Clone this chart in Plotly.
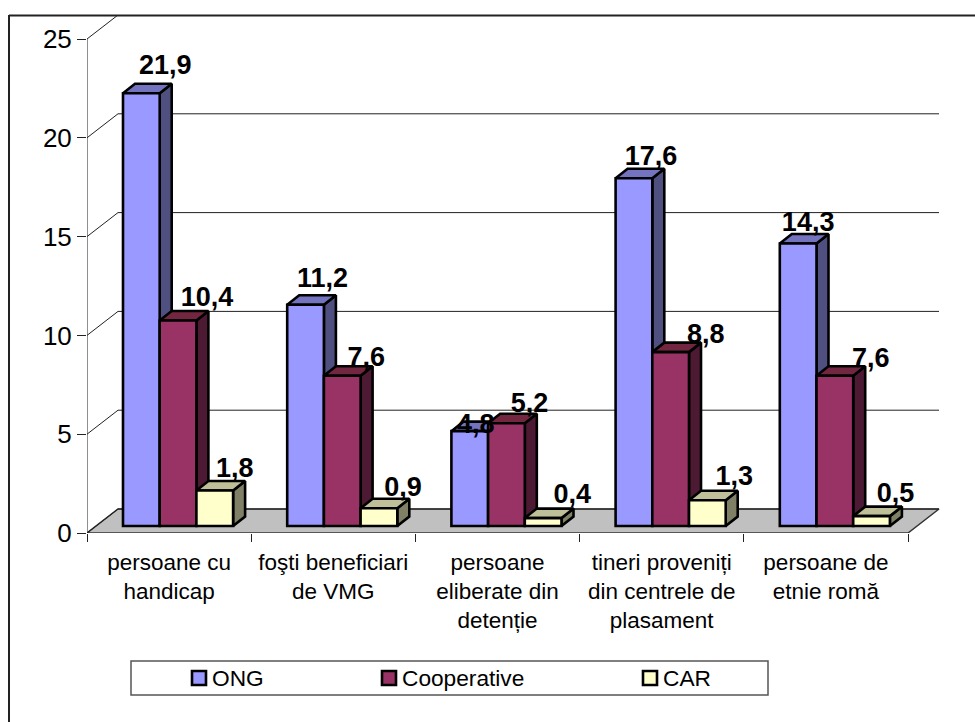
import plotly.graph_objects as go

categories = ["persoane cu<br>handicap", "foşti beneficiari<br>de VMG", "persoane<br>eliberate din<br>detenție",
              "tineri proveniți<br>din centrele de<br>plasament", "persoane de<br>etnie romă"]
ong = [21.9, 11.2, 4.8, 17.6, 14.3]
cooperative = [10.4, 7.6, 5.2, 8.8, 7.6]
car = [1.8, 0.9, 0.4, 1.3, 0.5]
series_names = ["ONG", "Cooperative", "CAR"]
y_ticks = [0, 5, 10, 15, 20, 25]

# ---- style / geometry (pixels) ----
PLOT_L, PLOT_R, PLOT_T, PLOT_B = 87, 940, 16, 533
CAT_W = 164.2
UNIT = 19.76
FONT = "Liberation Sans"
def ux(p): return p / CAT_W
def uy(p): return p / UNIT
def px(x): return (x - PLOT_L) / (PLOT_R - PLOT_L)
def py(y): return (PLOT_B - y) / (PLOT_B - PLOT_T)

front = ["#9999FF", "#993366", "#FFFFCC"]
side = ["#4F4F80", "#4D1A33", "#808066"]
top = ["#7373BF", "#732640", "#BFBF99"]
BAR_W = ux(36.7)
BAR_START = ux(36)
LIFT = uy(7)
DEPTH_X, DEPTH_Y = ux(12), uy(9.5)
WALL_X, WALL_Y = ux(31), uy(24)
label_dx = [[24, 17, 6, 17, 10], [29, 24, 23, 35, 36], [20, 24, 29, 27, 24]]
label_dy = [[26, 24, 5, 20, 19], [21, 17, 18, 16, 16], [20, 19, 22, 22, 21]]

xr = [0, (PLOT_R - PLOT_L) / CAT_W]
yr = [0, (PLOT_B - PLOT_T) / UNIT]
n = len(categories)
values = [ong, cooperative, car]
fig = go.Figure()

def poly(xs, ys, fill, line="#000000", w=2.6):
    fig.add_trace(go.Scatter(x=xs, y=ys, mode="lines", fill="toself", fillcolor=fill,
                             line=dict(color=line, width=w), hoverinfo="skip", showlegend=False))

# floor
poly([0, WALL_X, n + WALL_X, n, 0], [0, WALL_Y, WALL_Y, 0, 0], "#C0C0C0", "#333333", 1.5)
# back wall grid + diagonals + value axis
for v in y_ticks:
    fig.add_trace(go.Scatter(x=[0, WALL_X, n + WALL_X], y=[v, v + WALL_Y, v + WALL_Y], mode="lines",
                             line=dict(color="#222222", width=1), hoverinfo="skip", showlegend=False))
fig.add_trace(go.Scatter(x=[0, 0], y=[0, y_ticks[-1]], mode="lines",
                         line=dict(color="#222222", width=1), hoverinfo="skip", showlegend=False))

# depth faces of the bars, from the values
for i in range(n):
    for s, vals in enumerate(values):
        x0 = i + BAR_START + s * BAR_W
        x1 = x0 + BAR_W
        t = vals[i] + LIFT
        poly([x1, x1 + DEPTH_X, x1 + DEPTH_X, x1, x1],
             [LIFT, LIFT + DEPTH_Y, t + DEPTH_Y, t, LIFT], side[s])
        poly([x0, x0 + DEPTH_X, x1 + DEPTH_X, x1, x0],
             [t, t + DEPTH_Y, t + DEPTH_Y, t, t], top[s])

# front faces, real bars on the overlaid axes
for s, vals in enumerate(values):
    fig.add_trace(go.Bar(x=[i + BAR_START + (s + 0.5) * BAR_W for i in range(n)], y=vals,
                         base=[LIFT] * n, width=BAR_W, name=series_names[s],
                         marker=dict(color=front[s], line=dict(color="#000000", width=2.6)),
                         xaxis="x2", yaxis="y2", showlegend=False))

# value labels
for s, vals in enumerate(values):
    fig.add_trace(go.Scatter(
        x=[i + BAR_START + (s + 0.5) * BAR_W + ux(label_dx[s][i]) for i in range(n)],
        y=[vals[i] + LIFT + uy(label_dy[s][i]) for i in range(n)],
        text=[str(v).replace(".", ",") for v in vals], mode="text", textposition="middle center",
        textfont=dict(family=FONT, size=27, color="#000000", weight="bold"),
        xaxis="x2", yaxis="y2", hoverinfo="skip", showlegend=False, cliponaxis=False))

shapes = [
    dict(type="line", xref="paper", yref="paper", x0=px(9), x1=px(9), y0=py(15), y1=py(722),
         line=dict(color="#222222", width=2)),
    dict(type="line", xref="paper", yref="paper", x0=px(9), x1=px(975), y0=py(15.5), y1=py(15.5),
         line=dict(color="#222222", width=2)),
    dict(type="rect", xref="paper", yref="paper", x0=px(131), x1=px(768), y0=py(661), y1=py(695),
         line=dict(color="#555555", width=1.5), fillcolor="#FFFFFF"),
]
annotations = []
swatch_x = [192, 382, 643]
for s, name in enumerate(series_names):
    shapes.append(dict(type="rect", xref="paper", yref="paper", x0=px(swatch_x[s]), x1=px(swatch_x[s] + 14),
                       y0=py(671), y1=py(685), fillcolor=front[s], line=dict(color="#000000", width=2.6)))
    annotations.append(dict(xref="paper", yref="paper", x=px(swatch_x[s] + 18), y=py(678), text=name,
                            showarrow=False, xanchor="left", yanchor="middle", xshift=0,
                            font=dict(family=FONT, size=22.7, color="#000000")))

fig.update_layout(
    width=975, height=722, autosize=False, showlegend=False, hovermode=False,
    margin=dict(l=PLOT_L, r=975 - PLOT_R, t=PLOT_T, b=722 - PLOT_B, pad=0),
    paper_bgcolor="#FFFFFF", plot_bgcolor="rgba(0,0,0,0)", barmode="overlay",
    font=dict(family=FONT, color="#000000"),
    xaxis=dict(range=xr, tickmode="array", tickvals=list(range(n + 1)), ticktext=[""] * (n + 1),
               ticks="outside", ticklen=8, tickwidth=1, tickcolor="#222222",
               showgrid=False, zeroline=False, showline=False),
    yaxis=dict(range=yr, tickmode="array", tickvals=y_ticks, ticktext=[str(v) for v in y_ticks],
               ticks="outside", ticklen=9, tickwidth=1, tickcolor="#222222",
               tickfont=dict(family=FONT, size=26, color="#000000"),
               showgrid=False, zeroline=False, showline=False),
    xaxis2=dict(range=xr, overlaying="x", anchor="y2", side="bottom", tickmode="array",
                tickvals=[i + 0.5 for i in range(n)], ticktext=categories, ticks="",
                tickfont=dict(family=FONT, size=22.5, color="#000000"), tickangle=0,
                ticklabelstandoff=13, showgrid=False, zeroline=False, showline=False),
    yaxis2=dict(range=yr, overlaying="y", anchor="x2", side="left", showticklabels=False, ticks="",
                showgrid=False, zeroline=False, showline=False),
    shapes=shapes, annotations=annotations,
)
fig.write_html("out.html", config={"displayModeBar": False},
               post_script="document.body.style.margin='0';document.documentElement.style.overflow='hidden';")
